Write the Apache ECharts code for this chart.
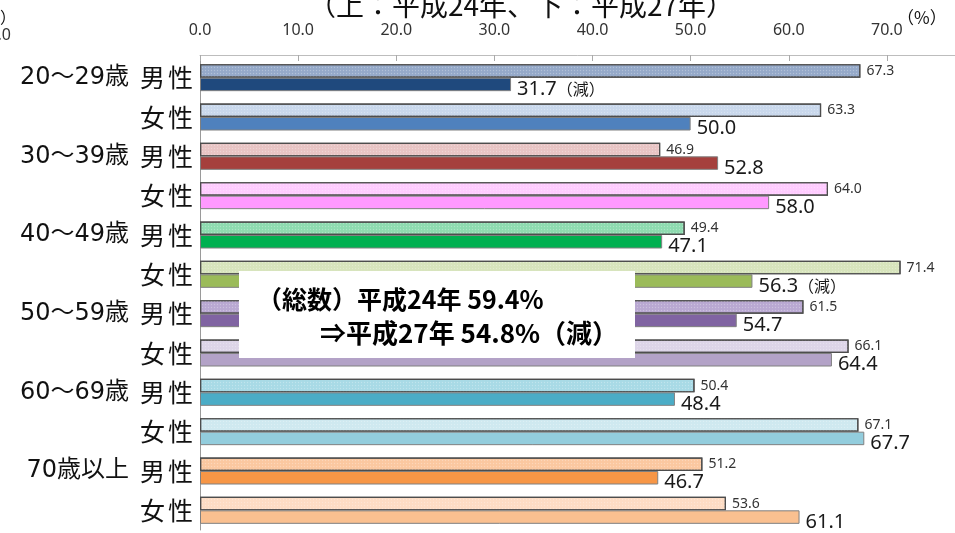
<!DOCTYPE html>
<html>
<head>
<meta charset="utf-8">
<script src="https://cdn.jsdelivr.net/npm/echarts@6/dist/echarts.min.js"></script>
<style>
  html, body { margin: 0; padding: 0; background: #fff; }
  #chart { width: 955px; height: 533px; }
</style>
</head>
<body>
<div id="chart"></div>
<script>
// Age groups and sexes (rows: each age group has 男性 then 女性)
const ages = ['20〜29歳', '30〜39歳', '40〜49歳', '50〜59歳', '60〜69歳', '70歳以上'];
const sexes = ['男性', '女性'];
const categories = ages.flatMap(a => sexes.map(s => a + ' ' + s));

// 平成24年 (upper bars) and 平成27年 (lower bars), %
const h24 = [67.3, 63.3, 46.9, 64.0, 49.4, 71.4, 61.5, 66.1, 50.4, 67.1, 51.2, 53.6];
const h27 = [31.7, 50.0, 52.8, 58.0, 47.1, 56.3, 54.7, 64.4, 48.4, 67.7, 46.7, 61.1];
const h27Notes = ['（減）', '', '', '', '', '（減）', '', '', '', '', '', ''];

// Axis tick values
const xMin = 0, xMax = 80, xStep = 10;

// Summary box text
const summaryLines = ['（総数）平成24年 59.4%', '⇒平成27年 54.8%（減）'];
const titleText = '（上：平成24年、下：平成27年）';

// Bar colours per row
const h24Colors = ['#95a9c9', '#c9d8ec', '#e8c4c4', '#ffccff', '#8edbb0', '#d7e4bc',
                   '#b9a8d2', '#ddd5e8', '#a8dae6', '#cfe9f0', '#fbc8a0', '#fddcc4'];
const h27Colors = ['#1f497d', '#4f81bd', '#a5403d', '#ff99ff', '#00b050', '#9bbb59',
                   '#8064a2', '#b3a2c7', '#4bacc6', '#93cddd', '#f79646', '#fac090'];

const jpFont = '"Noto Sans CJK JP", "Noto Sans", sans-serif';
const numFont = '"Noto Sans", "Noto Sans CJK JP", sans-serif';
const ageFont = '"DejaVu Sans", "Noto Sans CJK JP", sans-serif';

const dots = {
  symbol: 'circle',
  symbolSize: 0.45,
  color: 'rgba(255,255,255,0.28)',
  dashArrayX: [3, 0],
  dashArrayY: [3, 0],
  rotation: 0
};

const chart = echarts.init(document.getElementById('chart'), null, { renderer: 'canvas' });

chart.setOption({
  animation: false,
  backgroundColor: '#ffffff',
  // plot runs past the right edge so that 0–70 spans the visible width
  grid: { left: 200, width: 785, top: 58, bottom: 3, containLabel: false, outerBoundsMode: 'none' },
  xAxis: {
    type: 'value',
    position: 'top',
    offset: 3,
    min: xMin,
    max: xMax,
    interval: xStep,
    axisLine: { show: true, lineStyle: { color: '#bdbdbd', width: 1 } },
    axisTick: { show: true, inside: true, length: 6, lineStyle: { color: '#aaaaaa' } },
    splitLine: { show: false },
    axisLabel: {
      margin: 17,
      fontSize: 16,
      color: '#333',
      fontFamily: numFont,
      formatter: v => v.toFixed(1)
    }
  },
  yAxis: {
    type: 'category',
    inverse: true,
    data: categories,
    axisLine: { show: true, lineStyle: { color: '#9a9a9a', width: 1 } },
    axisTick: { show: false },
    axisLabel: {
      margin: 7,
      formatter: v => {
        const [age, sex] = v.split(' ');
        const sexPart = `{s1|${sex[0]}}{s2|${sex[1]}}`;
        return sex === '男性' ? `{age|${age}}${sexPart}` : sexPart;
      },
      rich: {
        age: { fontSize: 24, color: '#111', fontFamily: ageFont, padding: [0, 11, 0, 0] },
        s1: { fontSize: 25, color: '#111', fontFamily: jpFont, padding: [0, 3, 0, 0] },
        s2: { fontSize: 25, color: '#111', fontFamily: jpFont }
      }
    }
  },
  series: [
    {
      name: '平成24年',
      type: 'bar',
      barWidth: 13.5,
      barGap: 0,
      data: h24.map((v, i) => ({ value: v, itemStyle: { color: h24Colors[i] } })),
      itemStyle: { borderColor: '#4d4d4d', borderWidth: 1.2, decal: dots },
      label: {
        show: true,
        position: 'right',
        distance: 6,
        fontSize: 14,
        color: '#333',
        fontFamily: numFont,
        formatter: p => p.value.toFixed(1)
      },
      z: 3
    },
    {
      name: '平成27年',
      type: 'bar',
      barWidth: 13.5,
      barGap: 0,
      data: h27.map((v, i) => ({ value: v, itemStyle: { color: h27Colors[i] } })),
      itemStyle: { borderColor: '#808080', borderWidth: 1 },
      label: {
        show: true,
        position: 'right',
        distance: 6,
        offset: [0, 5],
        color: '#1a1a1a',
        fontFamily: numFont,
        formatter: p => {
          const note = h27Notes[p.dataIndex];
          return `{v|${p.value.toFixed(1)}}` + (note ? `{n|${note}}` : '');
        },
        rich: {
          v: { fontSize: 20, color: '#1a1a1a', fontFamily: numFont },
          n: { fontSize: 16, color: '#1a1a1a', fontFamily: jpFont }
        }
      },
      z: 3
    }
  ],
  graphic: [
    {
      type: 'text',
      style: {
        text: titleText,
        x: 521, y: 5,
        textAlign: 'center',
        textVerticalAlign: 'middle',
        fontSize: 28,
        fontFamily: jpFont,
        fill: '#111'
      }
    },
    {
      type: 'text',
      style: { text: '（%）', x: 897, y: 18, textVerticalAlign: 'middle', fontSize: 17, fontFamily: jpFont, fill: '#111' }
    },
    {
      type: 'text',
      style: { text: '（%）', x: 16, y: 17, textAlign: 'right', textVerticalAlign: 'middle', fontSize: 16, fontFamily: jpFont, fill: '#111' }
    },
    {
      type: 'text',
      style: { text: '80.0', x: 11, y: 35, textAlign: 'right', textVerticalAlign: 'middle', fontSize: 16, fontFamily: numFont, fill: '#333' }
    },
    {
      type: 'group',
      z: 100,
      children: [
        { type: 'rect', z: 100, shape: { x: 239, y: 271, width: 396, height: 87 }, style: { fill: '#ffffff' } },
        {
          type: 'text', z: 101,
          style: { text: summaryLines[0], x: 257, y: 299, textVerticalAlign: 'middle', fontSize: 25, fontWeight: 'bold', fontFamily: jpFont, fill: '#000' }
        },
        {
          type: 'text', z: 101,
          style: { text: summaryLines[1], x: 320, y: 333, textVerticalAlign: 'middle', fontSize: 26, fontWeight: 'bold', fontFamily: jpFont, fill: '#000' }
        }
      ]
    }
  ]
});
</script>
</body>
</html>
